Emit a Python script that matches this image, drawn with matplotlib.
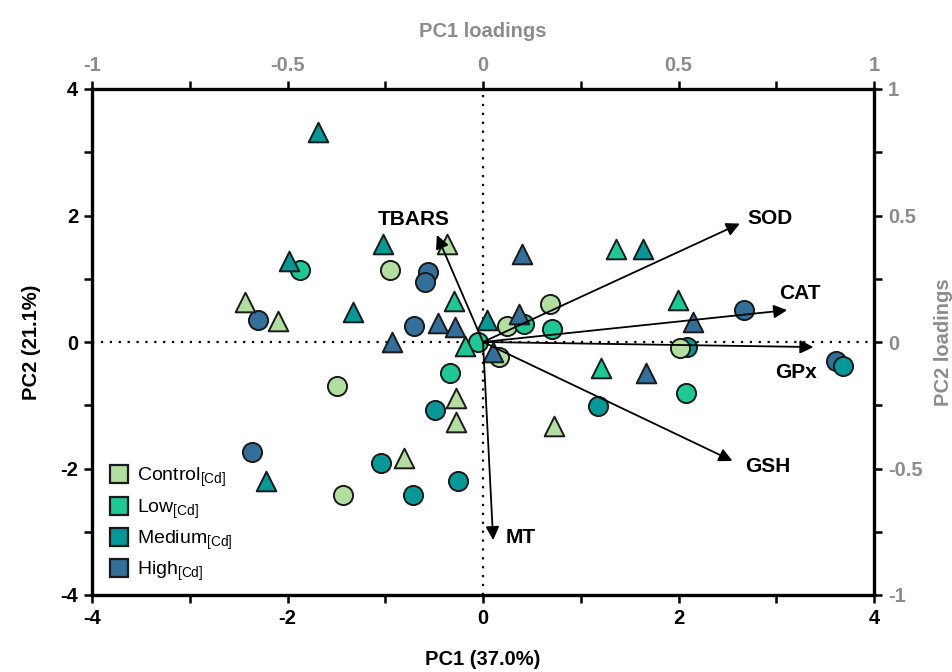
import matplotlib
matplotlib.use("Agg")
import matplotlib.pyplot as plt
from matplotlib.lines import Line2D

FONT = "Liberation Sans"
plt.rcParams['font.family'] = [FONT, 'DejaVu Sans']
plt.rcParams['mathtext.fontset'] = 'custom'
plt.rcParams['mathtext.rm'] = FONT
plt.rcParams['axes.unicode_minus'] = False

# ---- data ----
groups = ["Control", "Low", "Medium", "High"]
colors = {"Control": "#b2dea0", "Low": "#1fc796", "Medium": "#079797", "High": "#336f98"}

# circles (scores)
circ_group = ["Low", "Control", "High", "High", "High", "High", "Low", "Control", "Low",
              "Control", "Low", "Control", "Control", "Low", "Medium", "High", "Medium",
              "Control", "Medium", "Medium", "Medium", "Low", "Medium", "Control", "High",
              "High", "Medium"]
circ_x = [-1.87, -0.95, -0.56, -0.59, -2.30, -0.71, -0.05, 0.25, 0.42,
          0.69, 0.71, 0.16, -1.49, -0.34, -0.49, -2.36, -1.04,
          -1.43, -0.72, -0.26, 1.18, 2.08, 2.09, 2.02, 2.67,
          3.61, 3.68]
circ_y = [1.14, 1.14, 1.11, 0.95, 0.35, 0.25, 0.00, 0.25, 0.28,
          0.60, 0.21, -0.24, -0.70, -0.49, -1.08, -1.74, -1.91,
          -2.42, -2.42, -2.20, -1.01, -0.81, -0.08, -0.09, 0.51,
          -0.30, -0.38]

# triangles (scores)
tri_group = ["Medium", "Control", "Control", "Medium", "Medium", "Medium", "Control", "Low",
             "High", "High", "High", "Low", "Medium", "High", "High", "Low", "Medium",
             "Low", "High", "Low", "High", "Control", "Control", "Control", "Control",
             "Medium", "High"]
tri_x = [-1.69, -2.43, -2.10, -1.98, -1.33, -1.02, -0.37, -0.30,
         -0.46, -0.29, -0.93, -0.18, 0.04, 0.40, 0.37, 1.36, 1.64,
         1.99, 2.15, 1.21, 1.67, 0.73, -0.28, -0.28, -0.81,
         -2.22, 0.10]
tri_y = [3.32, 0.63, 0.33, 1.28, 0.47, 1.55, 1.55, 0.65,
         0.30, 0.24, 0.00, -0.06, 0.35, 1.39, 0.44, 1.47, 1.47,
         0.66, 0.32, -0.41, -0.49, -1.33, -0.89, -1.26, -1.83,
         -2.20, -0.16]

# loadings
variables = ["TBARS", "SOD", "CAT", "GPx", "GSH", "MT"]
load_pc1 = [-0.118, 0.657, 0.778, 0.845, 0.638, 0.026]
load_pc2 = [0.423, 0.468, 0.126, -0.020, -0.470, -0.783]
label_offsets = {"TBARS": (-0.06, 0.062), "SOD": (0.077, 0.02), "CAT": (0.032, 0.066),
                 "GPx": (-0.045, -0.10), "GSH": (0.09, -0.022), "MT": (0.07, 0.01)}

x_ticks = [-4, -2, 0, 2, 4]
x_minor = [-3, -1, 1, 3]
load_ticks = [-1, -0.5, 0, 0.5, 1]
load_minor = [-0.75, -0.25, 0.25, 0.75]
load_ticklabels = ["-1", "-0.5", "0", "0.5", "1"]

GREY = "#8c8c8c"
EDGE = "#1a1a1a"

fig = plt.figure(figsize=(9.52, 6.72), dpi=100)
pos = [92 / 952, 1 - 595 / 672, (874 - 92) / 952, (595 - 89) / 672]
ax = fig.add_axes(pos)
ax.set_xlim(-4, 4)
ax.set_ylim(-4, 4)

ax.axhline(0, color="black", lw=1.6, ls=(0, (1, 3)), zorder=1)
ax.axvline(0, color="black", lw=1.6, ls=(0, (1, 3)), zorder=1)

for xs, ys, gs, mk, ms in [(circ_x, circ_y, circ_group, "o", 190), (tri_x, tri_y, tri_group, "^", 200)]:
    for x, y, g in zip(xs, ys, gs):
        ax.scatter(x, y, s=ms, marker=mk, facecolor=colors[g], edgecolor=EDGE,
                   linewidth=1.4, zorder=3)

for sp in ax.spines.values():
    sp.set_linewidth(2.4)
ax.set_xticks(x_ticks)
ax.set_xticks(x_minor, minor=True)
ax.set_yticks(x_ticks)
ax.set_yticks(x_minor, minor=True)
ax.tick_params(which="both", direction="out", length=6, width=1.8, labelsize=14.5, pad=4)
for lab in ax.get_xticklabels() + ax.get_yticklabels():
    lab.set_fontweight("bold")
ax.set_xlabel("PC1 (37.0%)", fontsize=14.5, fontweight="bold", labelpad=16)
ax.set_ylabel("PC2 (21.1%)", fontsize=14.5, fontweight="bold", labelpad=14)

# loadings overlay
axl = fig.add_axes(pos, frameon=False)
axl.set_xlim(-1, 1)
axl.set_ylim(-1, 1)
axl.patch.set_alpha(0)
axl.xaxis.tick_top()
axl.yaxis.tick_right()
axl.xaxis.set_label_position("top")
axl.yaxis.set_label_position("right")
axl.set_xticks(load_ticks)
axl.set_xticklabels(load_ticklabels)
axl.set_xticks(load_minor, minor=True)
axl.set_yticks(load_ticks)
axl.set_yticklabels(load_ticklabels)
axl.set_yticks(load_minor, minor=True)
axl.tick_params(which="both", direction="out", length=6, width=1.8, labelsize=14.5,
                labelcolor=GREY, pad=4)
for lab in axl.get_yticklabels() + axl.get_xticklabels():
    lab.set_fontweight("bold")
axl.set_xlabel("PC1 loadings", fontsize=14.5, fontweight="bold", color=GREY, labelpad=14)
axl.set_ylabel("PC2 loadings", fontsize=14.5, fontweight="bold", color=GREY, labelpad=8)

for v, lx, ly in zip(variables, load_pc1, load_pc2):
    axl.annotate("", xy=(lx, ly), xytext=(0, 0),
                 arrowprops=dict(arrowstyle="-|>", color="black", lw=1.3,
                                 mutation_scale=20, shrinkA=0, shrinkB=0), zorder=5)
    dx, dy = label_offsets[v]
    axl.text(lx + dx, ly + dy, v, fontsize=15, fontweight="bold", ha="center", va="center")

handles = [Line2D([], [], marker="s", ls="none", markersize=13, markerfacecolor=colors[g],
                  markeredgecolor=EDGE, markeredgewidth=1.6) for g in groups]
labels = [g + r"$_{[\mathrm{Cd}]}$" for g in groups]
ax.legend(handles, labels, loc="lower left", bbox_to_anchor=(0.005, 0.0), frameon=False,
          fontsize=14, handletextpad=0.3, labelspacing=0.4, handlelength=1.2,
          borderaxespad=0.2)

fig.savefig("out.png", dpi=100)
